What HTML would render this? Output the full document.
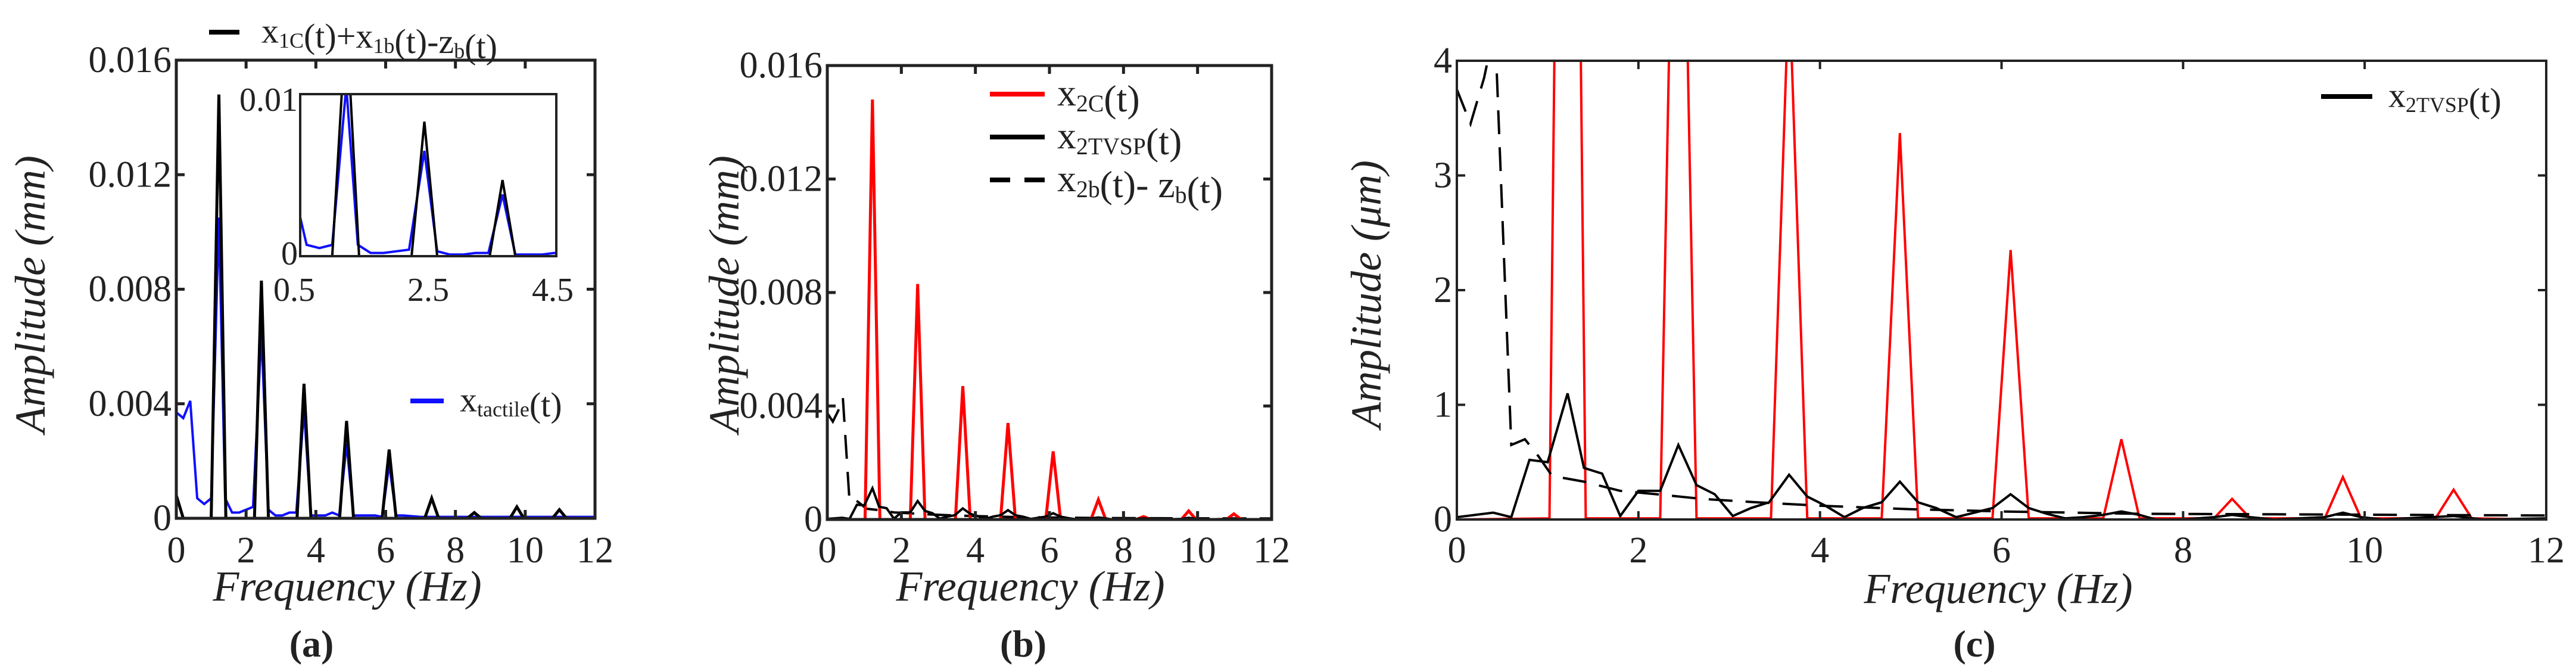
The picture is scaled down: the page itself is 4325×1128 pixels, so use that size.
<!DOCTYPE html>
<html><head><meta charset="utf-8"><style>
html,body{margin:0;padding:0;background:#fff;}
svg{display:block;}
svg text{font-family:"Liberation Serif","DejaVu Serif",serif;fill:#222;}
</style></head><body>
<svg id="fig" width="4325" height="1128" viewBox="0 0 4325 1128" font-family="Liberation Serif, DejaVu Serif, serif" xmlns="http://www.w3.org/2000/svg"></svg>
<script>
// ---------- data ----------
const xTicks=[0,2,4,6,8,10,12];
const xTickLabels=["0","2","4","6","8","10","12"];
const yTicksMM=[0,0.004,0.008,0.012,0.016];
const yTickLabelsMM=["0","0.004","0.008","0.012","0.016"];
const yTicksUM=[0,1,2,3,4];
const yTickLabelsUM=["0","1","2","3","4"];

const a_blackF=[0,0.2,1.0,1.22,1.42,2.24,2.44,2.64,3.46,3.66,3.86,4.68,4.88,5.08,5.9,6.1,6.3,7.12,7.32,7.52,8.34,8.54,8.74,9.56,9.76,9.96,10.78,10.98,11.18,12];
const a_blackA=[0.0008,0,0,0.0148,0,0,0.0083,0,0,0.0047,0,0,0.0034,0,0,0.0024,0,0,0.0007,0,0,0.0002,0,0,0.0004,0,0,0.0003,0,0];
const a_blueF=[0,0.2,0.4,0.6,0.8,1.0,1.22,1.4,1.6,1.8,2.0,2.2,2.44,2.64,2.84,3.04,3.24,3.44,3.66,3.86,4.06,4.27,4.47,4.67,4.88,5.08,5.28,5.5,5.7,5.9,6.1,6.3,6.5,7.0,8.0,9.0,10.0,11.0,12];
const a_blueA=[0.0037,0.0035,0.0041,0.0007,0.0005,0.0007,0.0105,0.0007,0.0002,0.0002,0.0003,0.0004,0.0065,0.0003,0.0001,0.0001,0.0002,0.0002,0.0038,0.0001,0.0001,0.0001,0.0002,0.0001,0.0026,0.0001,0.0001,0.0001,0.0001,0.00005,0.0019,0.0001,0.0001,0.00005,0.00005,0.00005,0.00005,0.00005,0.00005];

const bF_red=[0,1.02,1.22,1.42,2.24,2.44,2.64,3.46,3.66,3.86,4.68,4.88,5.08,5.9,6.1,6.3,7.12,7.32,7.52,8.34,8.54,8.74,9.56,9.76,9.96,10.78,10.98,11.18,12];
const bA_red=[0,0,0.0148,0,0,0.0083,0,0,0.0047,0,0,0.0034,0,0,0.0024,0,0,0.0007,0,0,0.0001,0,0,0.0003,0,0,0.0002,0,0];
const cF_red=[0,1.02,1.22,1.42,2.24,2.44,2.64,3.46,3.66,3.86,4.68,4.88,5.08,5.9,6.1,6.3,7.12,7.32,7.52,8.34,8.54,8.74,9.56,9.76,9.96,10.78,10.98,11.18,12];
const cA_red=[0,0.01,14.8,0.01,0.01,8.3,0.01,0.01,4.7,0.01,0.01,3.37,0.01,0.01,2.35,0.01,0.01,0.7,0.01,0.01,0.18,0.01,0.01,0.37,0.01,0.01,0.26,0.01,0];
const cF_tvsp=[0,0.4,0.6,0.8,1.0,1.22,1.4,1.6,1.8,2.0,2.24,2.44,2.64,2.84,3.04,3.24,3.44,3.66,3.86,4.06,4.27,4.47,4.68,4.88,5.08,5.28,5.5,5.7,5.9,6.1,6.3,6.5,6.7,6.9,7.12,7.32,7.52,7.7,8.0,8.34,8.54,8.74,9.0,9.56,9.76,9.96,10.2,10.98,11.3,12];
const cA_tvsp=[0.02,0.06,0.02,0.52,0.5,1.1,0.45,0.4,0.03,0.25,0.25,0.65,0.3,0.22,0.03,0.1,0.15,0.39,0.2,0.12,0.02,0.1,0.15,0.33,0.15,0.1,0.02,0.06,0.1,0.22,0.1,0.05,0.01,0.02,0.04,0.07,0.04,0,0,0.02,0.04,0.02,0,0.02,0.06,0.02,0,0.03,0,0.01];
const cF_base=[0,0.15,0.3,0.42,0.6,0.75,0.9,1.05,1.4,1.8,2.2,2.7,3.3,4.0,5.0,6.0,7.5,9.0,10.5,12];
const cA_base=[3.75,3.45,3.85,4.3,0.65,0.7,0.55,0.38,0.33,0.25,0.22,0.18,0.15,0.12,0.09,0.07,0.05,0.045,0.04,0.035];

// ---------- helpers ----------
const NS="http://www.w3.org/2000/svg";
const svg=document.getElementById('fig');
const FF='Liberation Serif, DejaVu Serif, serif';
function el(tag,attrs,parent){const e=document.createElementNS(NS,tag);for(const k in attrs)e.setAttribute(k,attrs[k]);(parent||svg).appendChild(e);return e;}
function txt(s,x,y,size,parent,extra){const t=el('text',Object.assign({x:x,y:y,'font-size':size,'font-family':FF},extra||{}),parent);t.textContent=s;return t;}
function scale(d0,d1,r0,r1){return v=>r0+(v-d0)/(d1-d0)*(r1-r0);}
let clipId=0;
function makeAxes(name,L,R,T,B,xmax,ymax,yT,yTL,lw,tickFs){
  const g=el('g',{});
  
  
  const xs=scale(0,xmax,L,R), ys=scale(0,ymax,B,T);
  const id='clip'+(clipId++);
  const cp=el('clipPath',{id:id},g); el('rect',{x:L,y:T,width:R-L,height:B-T},cp);
  const plot=el('g',{'clip-path':'url(#'+id+')'},g);
  
  
  xTicks.forEach((v,i)=>{const x=xs(v);
    el('line',{x1:x,y1:B,x2:x,y2:B-14,stroke:'#222','stroke-width':lw},g);
    el('line',{x1:x,y1:T,x2:x,y2:T+14,stroke:'#222','stroke-width':lw},g);
    const t=txt(xTickLabels[i],x,944,tickFs,g,{'text-anchor':'middle'});
    
    
  });
  yT.forEach((v,i)=>{const y=ys(v);
    el('line',{x1:L,y1:y,x2:L+14,y2:y,stroke:'#222','stroke-width':lw},g);
    el('line',{x1:R,y1:y,x2:R-14,y2:y,stroke:'#222','stroke-width':lw},g);
    const t=txt(yTL[i],L-8,y+20,tickFs,g,{'text-anchor':'end'});
    
    
  });
  const frame=el('rect',{x:L,y:T,width:R-L,height:B-T,fill:'none',stroke:'#222','stroke-width':lw},g);
  
  
  return {g,plot,xs,ys};
}
function series(ax,F,A,color,w,name,dash){
  const pts=F.map((f,i)=>ax.xs(f).toFixed(1)+','+ax.ys(A[i]).toFixed(1)).join(' ');
  const p=el('polyline',{points:pts,fill:'none',stroke:color,'stroke-width':w,'stroke-linejoin':'miter'},ax.plot);
  if(dash)p.setAttribute('stroke-dasharray',dash);
  
  
  return p;
}
function legendEntry(parent,x1,x2,y,color,w,dash,parts,tx,fs,name){
  const g=el('g',{},parent);
  
  
  const l=el('line',{x1:x1,y1:y,x2:x2,y2:y,stroke:color,'stroke-width':w},g);
  if(dash)l.setAttribute('stroke-dasharray',dash);
  const t=el('text',{x:tx,y:y+fs*0.3,'font-size':fs,'font-family':FF},g);
  parts.forEach(([m,s])=>{
    const a=el('tspan',{},t);a.textContent=m;
    if(s){const b=el('tspan',{'font-size':fs*0.62,dy:fs*0.15},t);b.textContent=s;
      const c=el('tspan',{dy:-fs*0.15},t);c.textContent='';}
  });
  return g;
}
function ytitle(s,x,cy,fs,name){
  const t=txt(s,0,0,fs,svg,{'font-style':'italic','text-anchor':'middle',transform:'translate('+x+','+cy+') rotate(-90)'});
  
}
function xtitle(s,cx,y,fs,name){
  const t=txt(s,cx,y,fs,svg,{'font-style':'italic','text-anchor':'middle'});
  
}
function plabel(s,cx,name){
  const t=txt(s,cx,1102,64,svg,{'font-weight':'bold','text-anchor':'middle'});
  
}

// ---------- panel (a) ----------
const A=makeAxes('panel-a-axes',296,999,101,870,12,0.016,yTicksMM,yTickLabelsMM,5,62);
series(A,a_blueF,a_blueA,'#1010ff',4,'series-x-tactile');
series(A,a_blackF,a_blackA,'#000',5,'series-x1c-plus-x1b-minus-zb');
// inset
const IL=504,IR=934,IT=158,IB=430;
const inset=el('g',{});


el('rect',{x:IL-60,y:IT-20,width:IR-IL+100,height:IB-IT+110,fill:'#fff'},inset);
const ixs=scale(0.5,4.5,IL,IR), iys=scale(0,0.01,IB,IT);
const icp=el('clipPath',{id:'insetclip'},inset);
el('rect',{x:IL,y:IT,width:IR-IL,height:IB-IT},icp);
const ip=el('g',{'clip-path':'url(#insetclip)'},inset);
const IA={plot:ip,xs:ixs,ys:iys};
series(IA,a_blueF,a_blueA,'#1010ff',4,'inset-series-x-tactile');
series(IA,a_blackF,a_blackA,'#000',4,'inset-series-x1c');
el('rect',{x:IL,y:IT,width:IR-IL,height:IB-IT,fill:'none',stroke:'#222','stroke-width':4},inset);
txt('0.01',IL-4,IT+28,56,inset,{'text-anchor':'end'});
txt('0',IL-4,IB+14,56,inset,{'text-anchor':'end'});
[['0.5',0.5],['2.5',2.5],['4.5',4.5]].forEach(([s,v])=>txt(s,ixs(v)-(v===0.5?10:(v===4.5?6:0)),505,56,inset,{'text-anchor':'middle'}));
// legends a
legendEntry(svg,351,402,54,'#000',8,null,[['x','1C'],['(t)+x','1b'],['(t)-z','b'],['(t)',null]],439,58,'legend-entry-x1c');
legendEntry(svg,689,745,673,'#1010ff',8,null,[['x','tactile'],['(t)',null]],772,58,'legend-entry-x-tactile');
ytitle('Amplitude (mm)',75,494,72,'y-axis-title-a');
xtitle('Frequency (Hz)',583,1008,72,'x-axis-title-a');
plabel('(a)',523,'panel-label-a');

// ---------- panel (b) ----------
const B=makeAxes('panel-b-axes',1389,2135,110,872,12,0.016,yTicksMM,yTickLabelsMM,5,62);
const bBaseA=cA_base.map(v=>v/1000), bTvspA=cA_tvsp.map(v=>v/1000);
series(B,cF_base,bBaseA,'#000',4,'series-b-x2b-minus-zb','40,22');
series(B,bF_red,bA_red,'#ff0000',5,'series-b-x2c');
series(B,cF_tvsp,bTvspA,'#000',4,'series-b-x2tvsp');
legendEntry(svg,1662,1754,158,'#ff0000',8,null,[['x','2C'],['(t)',null]],1775,64,'legend-entry-x2c');
legendEntry(svg,1662,1754,230,'#000',8,null,[['x','2TVSP'],['(t)',null]],1775,64,'legend-entry-x2tvsp');
legendEntry(svg,1662,1754,302,'#000',8,'34,24',[['x','2b'],['(t)- z','b'],['(t)',null]],1775,64,'legend-entry-x2b-minus-zb');
ytitle('Amplitude (mm)',1240,494,72,'y-axis-title-b');
xtitle('Frequency (Hz)',1730,1008,72,'x-axis-title-b');
plabel('(b)',1718,'panel-label-b');

// ---------- panel (c) ----------
const C=makeAxes('panel-c-axes',2446,4275,102,872,12,4,yTicksUM,yTickLabelsUM,4,62);
series(C,cF_red,cA_red,'#ff0000',4,'series-c-x2c');
series(C,cF_base,cA_base,'#000',4,'series-c-x2b-minus-zb','40,22');
series(C,cF_tvsp,cA_tvsp,'#000',4,'series-c-x2tvsp');
legendEntry(svg,3897,3983,162,'#000',8,null,[['x','2TVSP'],['(t)',null]],4010,58,'legend-entry-c-x2tvsp');
ytitle('Amplitude (\u03bcm)',2318,494,72,'y-axis-title-c');
xtitle('Frequency (Hz)',3355,1012,72,'x-axis-title-c');
plabel('(c)',3315,'panel-label-c');
</script>
</body></html>
